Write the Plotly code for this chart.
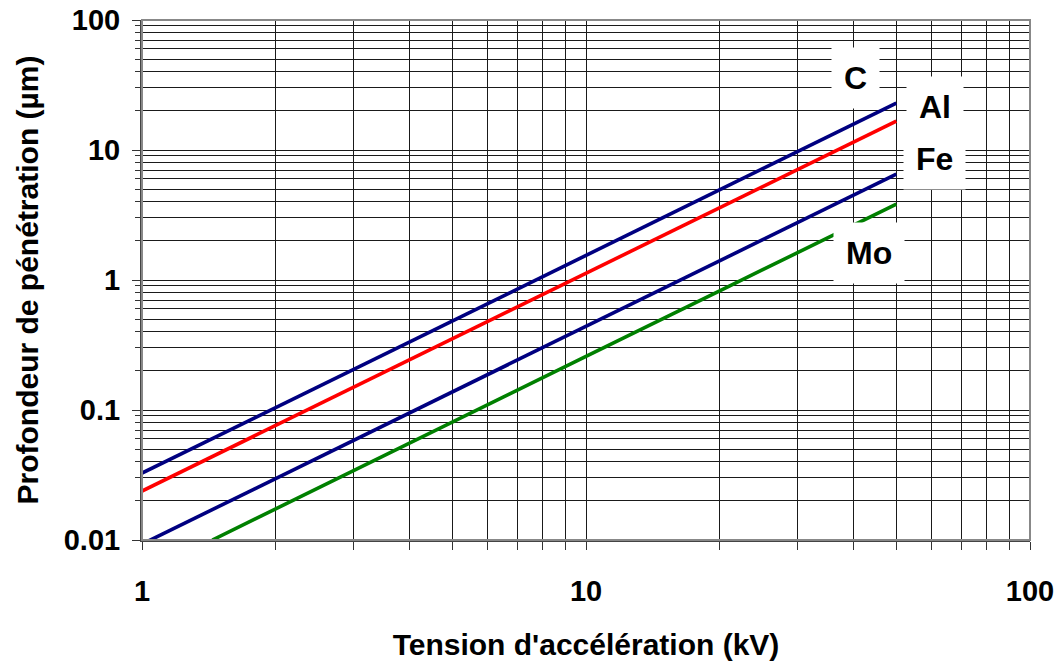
import math
import plotly.graph_objects as go

# Accelerating voltage (kV)
tension_kv = [1, 2, 5, 10, 20, 50]
mo_tension_kv = [1.44, 2, 5, 10, 20, 50]

# Penetration depth (µm)
depth_c = [0.0327, 0.1044, 0.485, 1.547, 4.94, 22.9]
depth_al = [0.0238, 0.0760, 0.353, 1.126, 3.60, 16.7]
depth_fe = [0.0093, 0.0297, 0.138, 0.440, 1.405, 6.52]
depth_mo = [0.0100, 0.0174, 0.0807, 0.258, 0.825, 3.83]

series = [
    ("C", tension_kv, depth_c, "#000080"),
    ("Al", tension_kv, depth_al, "#FF0000"),
    ("Fe", tension_kv, depth_fe, "#000080"),
    ("Mo", mo_tension_kv, depth_mo, "#008000"),
]

# Label annotation positions (data coords)
label_names = ["C", "Al", "Fe", "Mo"]
label_x = [40.5, 61, 61, 43.5]
label_y = [36, 21.5, 8.6, 1.62]

x_tickvals = [1, 10, 100]
x_ticktext = ["<b>1</b>", "<b>10</b>", "<b>100</b>"]
y_tickvals = [0.01, 0.1, 1, 10, 100]
y_ticktext = ["<b>0.01</b>", "<b>0.1</b>", "<b>1</b>", "<b>10</b>", "<b>100</b>"]

FONT = "Liberation Sans, Arial, sans-serif"

fig = go.Figure()
for name, xs, ys, col in series:
    fig.add_trace(go.Scatter(x=xs, y=ys, mode="lines", name=name,
                             line=dict(color=col, width=3.6), showlegend=False))

for n, lx, ly in zip(label_names, label_x, label_y):
    fig.add_annotation(x=math.log10(lx), y=math.log10(ly),
                       text="<b>%s</b>" % n, showarrow=False,
                       font=dict(family=FONT, size=32, color="black"),
                       bgcolor="white", borderpad=12)

grid_col = "#1a1a1a"
fig.update_xaxes(type="log", range=[0, 2], tickvals=x_tickvals, ticktext=x_ticktext,
                 automargin=False, ticklabeloverflow="allow",
                 showgrid=True, gridcolor=grid_col, gridwidth=1,
                 minor=dict(dtick="D1", showgrid=True, gridcolor=grid_col, gridwidth=1,
                            ticks="outside", ticklen=8, tickcolor="#333"),
                 ticks="outside", ticklen=8, tickcolor="#333",
                 showline=True, linecolor="#444", linewidth=2, mirror=False,
                 tickfont=dict(family=FONT, size=29, color="black"),
                 ticklabelstandoff=16,
                 title=dict(text="<b>Tension d'accélération (kV)</b>",
                            font=dict(family=FONT, size=30, color="black"), standoff=28))
fig.update_yaxes(type="log", range=[-2, 2], tickvals=y_tickvals, ticktext=y_ticktext,
                 automargin=False, ticklabeloverflow="allow",
                 showgrid=True, gridcolor=grid_col, gridwidth=1,
                 minor=dict(dtick="D1", showgrid=True, gridcolor=grid_col, gridwidth=1,
                            ticks="outside", ticklen=5, tickcolor="#333"),
                 ticks="outside", ticklen=8, tickcolor="#333",
                 showline=True, linecolor="#444", linewidth=2,
                 tickfont=dict(family=FONT, size=29, color="black"),
                 ticklabelstandoff=6,
                 title=dict(text="<b>Profondeur de pénétration (µm)</b>",
                            font=dict(family=FONT, size=30, color="black"), standoff=16))

# top/right gray border
fig.add_shape(type="rect", xref="paper", yref="paper", x0=0, x1=1, y0=0, y1=1,
              line=dict(color="#888", width=2), layer="above")

fig.update_layout(width=1059, height=666, plot_bgcolor="white", paper_bgcolor="white",
                  margin=dict(l=142, r=29, t=20, b=126),
                  font=dict(family=FONT))
fig.write_html("out.html", config={"displayModeBar": False},
               post_script="document.body.style.margin='0';document.body.style.overflow='hidden';")
